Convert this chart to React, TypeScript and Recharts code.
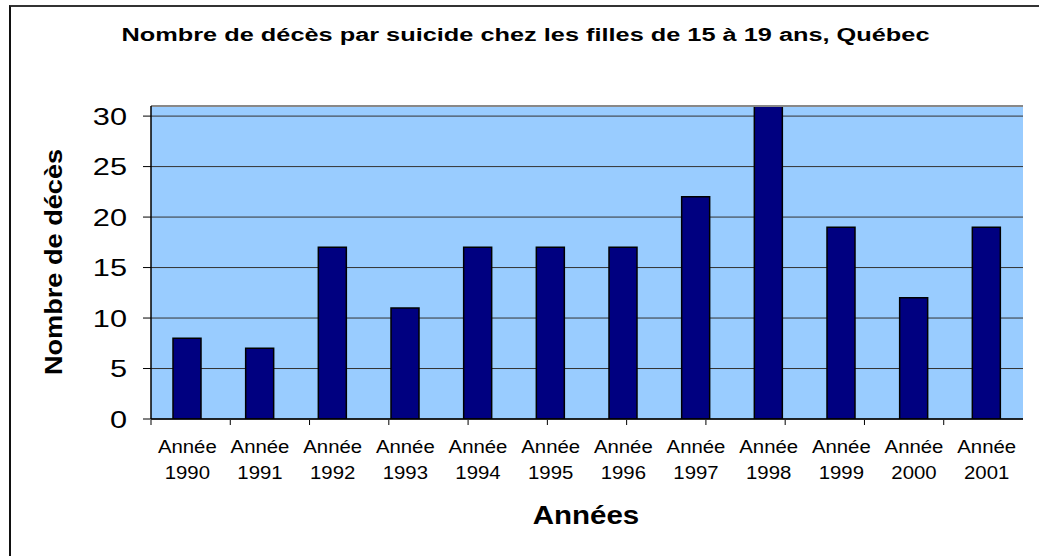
import React from 'react';
import { BarChart, Bar, XAxis, YAxis, CartesianGrid, ReferenceLine } from 'recharts';

// Décès par suicide, filles 15-19 ans, Québec
const years = ['1990', '1991', '1992', '1993', '1994', '1995', '1996', '1997', '1998', '1999', '2000', '2001'];
const deaths = [8, 7, 17, 11, 17, 17, 17, 22, 31, 19, 12, 19];
const yTicks = [0, 5, 10, 15, 20, 25, 30];
// bornes entre les catégories (pour les petites marques de l'axe X)
const edgeTicks = [0, 1, 2, 3, 4, 5, 6, 7, 8, 9, 10, 11, 12];

const data = years.map((year, i) => ({ year, deaths: deaths[i] }));

const FONT = '"Liberation Sans", Arial, Helvetica, sans-serif';

type StretchProps = {
  x: number;
  y: number;
  size: number;
  sx?: number;
  bold?: boolean;
  anchor?: 'start' | 'middle' | 'end';
  rotate?: number;
  children: React.ReactNode;
};

// texte un peu élargi, comme le rendu d'Excel
function StretchText({ x, y, size, sx = 1, bold, anchor = 'middle', rotate = 0, children }: StretchProps) {
  return (
    <text
      transform={`translate(${x},${y}) rotate(${rotate}) scale(${sx},1)`}
      x={0}
      y={0}
      fontSize={size}
      fontWeight={bold ? 'bold' : 'normal'}
      fontFamily={FONT}
      textAnchor={anchor}
      fill="#000"
    >
      {children}
    </text>
  );
}

const YTick = (props: any) => {
  const { x, y, payload } = props;
  return (
    <StretchText x={x} y={y + 8.5} size={24} sx={1.28} anchor="end">
      {payload.value}
    </StretchText>
  );
};

const XTick = (props: any) => {
  const { x, payload } = props;
  // position verticale fixée sur l'axe à 0
  const y0 = 419;
  return (
    <g>
      <StretchText x={x} y={y0 + 34} size={18.5} sx={1.1}>Année</StretchText>
      <StretchText x={x} y={y0 + 60} size={18.5} sx={1.1}>{payload.value}</StretchText>
    </g>
  );
};

// pas de texte, seulement la marque
const EmptyTick = () => <g />;

export default function App() {
  return (
    <div style={{ position: 'absolute', left: 0, top: 0, width: 1039, height: 556, background: '#fff', fontFamily: FONT }}>
      {/* cadre du graphique : seulement gauche et haut visibles */}
      <div
        style={{
          position: 'absolute',
          left: 9,
          top: 5,
          width: 1030,
          height: 551,
          borderLeft: '2px solid #111',
          borderTop: '2px solid #333',
          boxSizing: 'border-box',
        }}
      />
      <svg width={1039} height={60} style={{ position: 'absolute', left: 0, top: 0 }}>
        <StretchText x={525.5} y={41} size={18.5} sx={1.37} bold>
          Nombre de décès par suicide chez les filles de 15 à 19 ans, Québec
        </StretchText>
      </svg>
      <div style={{ position: 'absolute', left: 0, top: 0 }}>
        <BarChart width={1039} height={556} data={data} margin={{ top: 106, right: 16, bottom: 135, left: 0 }}>
          <CartesianGrid xAxisId="edges" vertical={false} stroke="#333" strokeWidth={1} fill="#99CCFF" fillOpacity={1} />
          <XAxis
            xAxisId="edges"
            type="number"
            domain={[0, 12]}
            ticks={edgeTicks}
            tick={<EmptyTick />}
            axisLine={false}
            tickSize={5}
            tickLine={{ stroke: '#000', strokeWidth: 1 }}
            height={1}
          />
          <XAxis
            xAxisId="cat"
            dataKey="year"
            height={1}
            tickLine={false}
            tickSize={0}
            tickMargin={0}
            interval={0}
            axisLine={{ stroke: '#000', strokeWidth: 1.5 }}
            tick={<XTick />}
            label={{
              content: () => (
                <StretchText x={586} y={524} size={25} sx={1.18} bold>
                  Années
                </StretchText>
              ),
            }}
          />
          <YAxis
            domain={[0, 31]}
            ticks={yTicks}
            width={151}
            tickSize={8}
            tickMargin={16}
            interval={0}
            allowDataOverflow
            axisLine={{ stroke: '#000', strokeWidth: 1.5 }}
            tickLine={{ stroke: '#000' }}
            tick={<YTick />}
            label={{
              content: () => (
                <StretchText x={62} y={262} size={23} sx={1.18} rotate={-90} bold>
                  Nombre de décès
                </StretchText>
              ),
            }}
          />
          <ReferenceLine xAxisId="edges" y={31} stroke="#888" strokeWidth={2} />
          <ReferenceLine xAxisId="edges" x={12} stroke="#888" strokeWidth={2} />
          <Bar
            xAxisId="cat"
            dataKey="deaths"
            fill="#000080"
            stroke="#000"
            strokeWidth={1.5}
            barSize={28}
            isAnimationActive={false}
          />
        </BarChart>
      </div>
    </div>
  );
}
